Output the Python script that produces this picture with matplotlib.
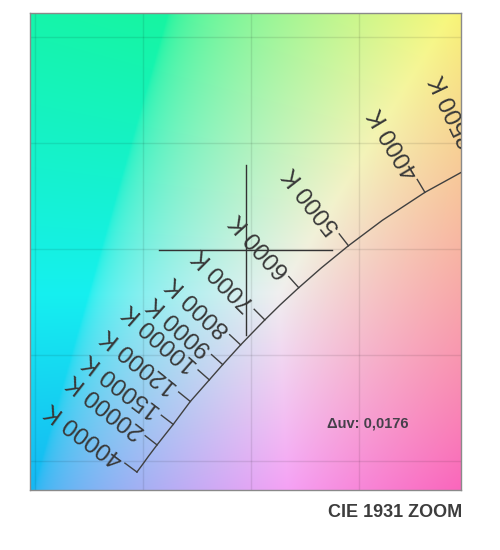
import numpy as np
import matplotlib.pyplot as plt

plt.rcParams['font.family'] = ['Liberation Sans', 'DejaVu Sans']

# Planckian locus, CIE 1931 xy
locus_temps = [40000, 30000, 25000, 20000, 15000, 12000, 10000, 9000, 8000,
               7500, 7000, 6500, 6000, 5500, 5000, 4500, 4000, 3500, 3000]
locus_x = [0.2472, 0.2501, 0.2525, 0.2565, 0.2640, 0.2719, 0.2807, 0.2869, 0.2952,
           0.3004, 0.3064, 0.3135, 0.3221, 0.3325, 0.3451, 0.3608, 0.3805, 0.4053, 0.4369]
locus_y = [0.2448, 0.2488, 0.2522, 0.2576, 0.2673, 0.2781, 0.2883, 0.2955, 0.3048,
           0.3103, 0.3166, 0.3237, 0.3318, 0.3411, 0.3516, 0.3636, 0.3768, 0.3907, 0.4041]
label_temps = [40000, 20000, 15000, 12000, 10000, 9000, 8000, 7000, 6000, 5000, 4000, 3500]

# measured point
point_x = 0.2976
point_y = 0.3495
delta_uv = 0.0176

x_lim = (0.1977, 0.3972)
y_lim = (0.2363, 0.4616)
x_grid = [0.20, 0.25, 0.30, 0.35]
y_grid = [0.25, 0.30, 0.35, 0.40, 0.45]


def cor_cromaticidade(x, y):
    # xy -> XYZ (Y=1) -> sRGB linear, normalizado pelo maior canal
    X = x / y
    Z = (1 - x - y) / y
    M = np.array([[3.2406, -1.5372, -0.4986],
                  [-0.9689, 1.8758, 0.0415],
                  [0.0557, -0.2040, 1.0570]])
    xyz = np.stack([X, np.ones_like(X), Z], axis=-1)
    rgb = xyz @ M.T
    rgb = np.clip(rgb, 0, None)
    rgb = rgb / rgb.max(axis=-1, keepdims=True)
    rgb = np.where(rgb <= 0.0031308, 12.92 * rgb, 1.055 * rgb ** (1 / 2.4) - 0.055)
    # tons um pouco mais suaves, como no original
    rgb = 0.91 * rgb + 0.09
    rgb = rgb * (1 - 0.06 * rgb[..., 1:2] * rgb[..., 2:3])
    return np.clip(rgb, 0, 1)


fig = plt.figure(figsize=(5, 5.5), dpi=100)
ax = fig.add_axes([0.06, 0.109, 0.862, 0.868])

gx, gy = np.meshgrid(np.linspace(*x_lim, 300), np.linspace(*y_lim, 300))
ax.imshow(cor_cromaticidade(gx, gy), extent=(*x_lim, *y_lim), origin='lower',
          aspect='auto', interpolation='bilinear', zorder=0)

ax.set_xlim(*x_lim)
ax.set_ylim(*y_lim)
ax.set_xticks(x_grid)
ax.set_yticks(y_grid)
ax.tick_params(length=0, labelbottom=False, labelleft=False)
ax.grid(True, color='black', alpha=0.09, lw=1)
for s in ax.spines.values():
    s.set_color('#8a8a8a')
    s.set_linewidth(1)

cor_linha = '#404040'
ax.plot(locus_x, locus_y, color=cor_linha, lw=1, zorder=3)

# marcas perpendiculares ao locus (em pixels)
pts = ax.transData.transform(np.column_stack([locus_x, locus_y]))
tang = np.gradient(pts, axis=0)
tang = tang / np.linalg.norm(tang, axis=1, keepdims=True)
normal = np.column_stack([-tang[:, 1], tang[:, 0]])
inv = ax.transData.inverted()

for t in label_temps:
    i = locus_temps.index(t)
    base = pts[i]
    n = normal[i]
    fim = inv.transform(base + 15 * n)
    txt = inv.transform(base + 19 * n)
    b = inv.transform(base)
    ax.plot([b[0], fim[0]], [b[1], fim[1]], color=cor_linha, lw=1, zorder=3)
    ang = np.degrees(np.arctan2(n[1], n[0]))
    ax.text(txt[0], txt[1], f'{t} K', rotation=ang, rotation_mode='anchor',
            ha='left', va='center', fontsize=17.5, color='#383838',
            clip_on=True, zorder=4)

# cruz do ponto medido
ax.plot([point_x - 0.04, point_x + 0.04], [point_y, point_y], color='#333333', lw=1, zorder=3)
ax.plot([point_x, point_x], [point_y - 0.04, point_y + 0.04], color='#333333', lw=1, zorder=3)

ax.text(0.783, 0.140, 'Δuv: ' + f'{delta_uv:.4f}'.replace('.', ','),
        transform=ax.transAxes, ha='center', va='center', fontsize=10.5,
        fontweight='bold', color='#45404a', zorder=4)

fig.text(0.924, 0.069, 'CIE 1931 ZOOM', ha='right', va='center', fontsize=13,
         fontweight='bold', color='#3d3d3d')

fig.savefig('out.png', dpi=100)
